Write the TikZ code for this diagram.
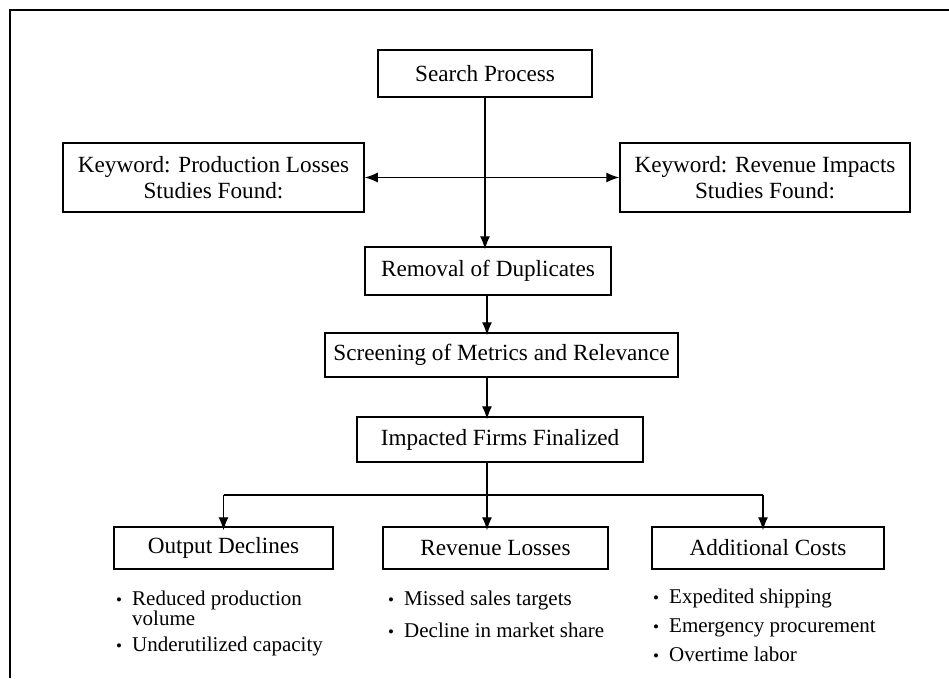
\documentclass[tikz,border=0pt]{standalone}
\usepackage{fontspec}
\setmainfont{Liberation Serif}
\usetikzlibrary{arrows.meta}
% bullet followed by a fixed gap
\newcommand\dotmark{\makebox[16pt][l]{\fontsize{17}{17}\selectfont\textbullet}}
\begin{document}
\begin{tikzpicture}[x=1pt,y=-1pt,
  box/.style={draw=black, line width=1.5pt, rectangle, inner sep=0pt, align=center,
              font=\fontsize{23.2}{25.5}\selectfont},
  link/.style={line width=1.3pt},
  arr/.style={link, -{Latex[length=13pt,width=10pt]}},
  dual/.style={link, {Latex[length=13pt,width=10pt]}-{Latex[length=13pt,width=10pt]}},
  item/.style={anchor=base west, inner sep=0pt, align=left,
               font=\fontsize{21}{21}\selectfont}]
\useasboundingbox (0,0) rectangle (949,678);

% open frame along the top and left
\draw[line width=1.8pt] (10,678) -- (10,10) -- (949,10);

% flow boxes
\node[box, minimum width=214pt, minimum height=47pt] (search) at (485,73.5) {Search Process};
\node[box, minimum width=301pt, minimum height=69pt] (kwL) at (213.5,177.5)
  {Keyword: Production Losses\\Studies Found:};
\node[box, minimum width=290pt, minimum height=69pt] (kwR) at (765,177.5)
  {Keyword: Revenue Impacts\\Studies Found:};
\node[box, minimum width=246pt, minimum height=48pt] (dup) at (488,271) {Removal of Duplicates};
\node[box, minimum width=353pt, minimum height=44pt] (screen) at (501.5,355) {Screening of Metrics and Relevance};
\node[box, minimum width=286pt, minimum height=45pt] (firms) at (500,439.5) {Impacted Firms Finalized};
\node[box, minimum width=219pt, minimum height=42pt] (out) at (223.5,548) {Output Declines};
\node[box, minimum width=225pt, minimum height=42pt] (rev) at (495.5,548) {Revenue Losses};
\node[box, minimum width=232pt, minimum height=42pt] (add) at (768,548) {Additional Costs};

% connectors
\coordinate (split) at (487,495);
\draw[dual] (kwL.east) -- (kwR.west);
\draw[arr] (search.south) -- ([yshift=-3pt]search.south |- dup.north);
\draw[arr] (split |- dup.south) -- ([yshift=-3pt]split |- screen.north);
\draw[arr] (split |- screen.south) -- ([yshift=-3pt]split |- firms.north);
\draw[link] (split |- firms.south) -- (split);
\draw[link] (out.north |- split) -- ([xshift=-5pt]add.north |- split);
\draw[arr] (out.north |- split) -- ([yshift=-4pt]out.north);
\draw[arr] (split) -- ([yshift=-4pt]split |- rev.north);
\draw[arr] ([xshift=-5pt]add.north |- split) -- ([xshift=-5pt,yshift=-4pt]add.north);

% bullet lists
\node[item] (o1) at (116,605) {\dotmark Reduced production};
\node[item] (o1b) at (132,625) {volume};
\node[item] (o2) at (116,651) {\dotmark Underutilized capacity};

\node[item] (r1) at (388,605) {\dotmark Missed sales targets};
\node[item] (r2) at (388,637) {\dotmark Decline in market share};

\node[item] (a1) at (653,603) {\dotmark Expedited shipping};
\node[item] (a2) at (653,632) {\dotmark Emergency procurement};
\node[item] (a3) at (653,661) {\dotmark Overtime labor};
\end{tikzpicture}
\end{document}
